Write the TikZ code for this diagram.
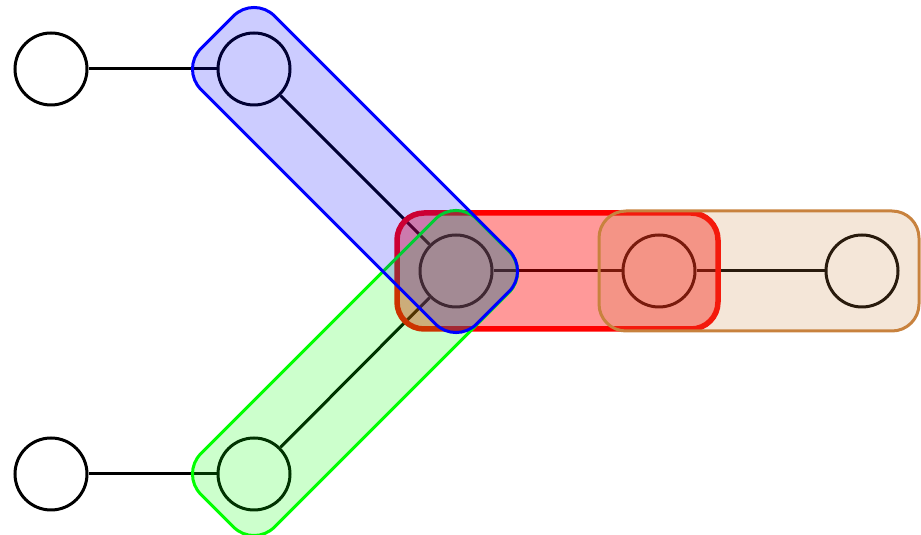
\documentclass[tikz,border=0pt]{standalone}
\begin{document}
\begin{tikzpicture}[x=1pt,y=1pt,
  vert/.style={circle,draw=black,line width=3pt,minimum size=72pt,inner sep=0pt},
  link/.style={draw=black,line width=3pt},
  hyper/.style={line width=3pt,rounded corners=29pt},
  bluehe/.style={hyper,draw=blue,fill=blue,fill opacity=0.2,draw opacity=1},
  greenhe/.style={hyper,draw=green,fill=green,fill opacity=0.2,draw opacity=1},
  redhe/.style={hyper,line width=5.5pt,rounded corners=27pt,draw=red,fill=red,fill opacity=0.4,draw opacity=1},
  brownhe/.style={hyper,rounded corners=27pt,draw=peruc,fill=peruc,fill opacity=0.2,draw opacity=1}]
\definecolor{peruc}{RGB}{200,130,62}
\useasboundingbox (0,0) rectangle (921,535);
\node[vert] (A) at (51,466) {};
\node[vert] (B) at (254,466) {};
\node[vert] (C) at (456,264) {};
\node[vert] (D) at (659,264) {};
\node[vert] (E) at (862,264) {};
\node[vert] (F) at (51,61) {};
\node[vert] (G) at (254,61) {};
\draw[link] (A) -- (B);
\draw[link] (B) -- (C);
\draw[link] (C) -- (D);
\draw[link] (D) -- (E);
\draw[link] (F) -- (G);
\draw[link] (G) -- (C);
% hyperedges
\draw[redhe] (397,206) rectangle (718,322);
\begin{scope}[shift={(254,61)},rotate=45]
\draw[greenhe] (-52,-52) rectangle (337.7,52);
\end{scope}
\begin{scope}[shift={(254,466)},rotate=-45]
\draw[bluehe] (-52,-52) rectangle (337.7,52);
\end{scope}
\draw[brownhe] (599,204) rectangle (919,324);
\end{tikzpicture}
\end{document}
